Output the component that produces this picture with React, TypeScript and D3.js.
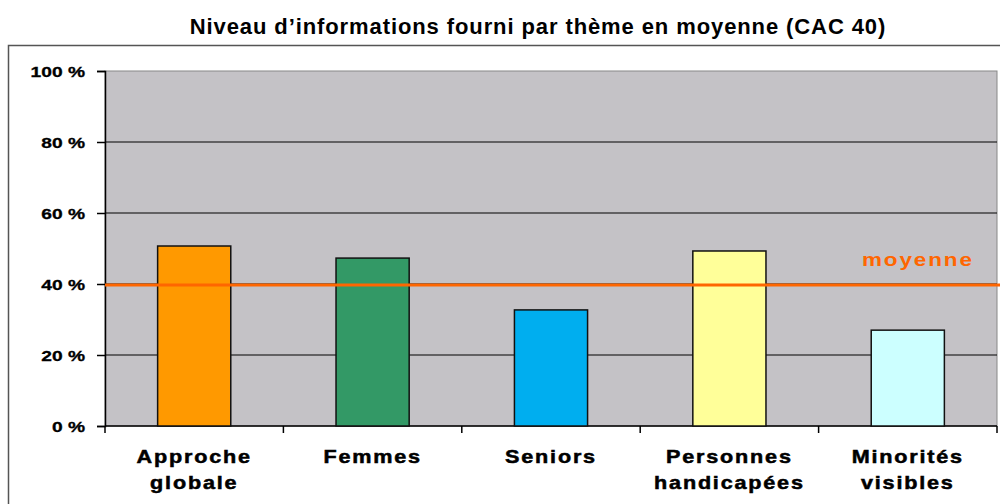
import React, { useEffect, useRef } from 'react'
import * as d3 from 'd3'

const categories = [['Approche', 'globale'], ['Femmes'], ['Seniors'], ['Personnes', 'handicapées'], ['Minorités', 'visibles']]
const values = [50.7, 47.3, 32.7, 49.3, 27]
const barColors = ['#FF9900', '#339966', '#00AEEF', '#FFFF99', '#CCFFFF']
const average = 39.7
const yTicks = [0, 20, 40, 60, 80, 100]

const FONT = 'Arial, "Liberation Sans", sans-serif'

export default function App() {
  const ref = useRef<SVGSVGElement>(null)

  useEffect(() => {
    if (!ref.current) return
    const svg = d3.select(ref.current)
    svg.selectAll('*').remove()

    const left = 105
    const right = 997
    const top = 71
    const bottom = 426

    const x = d3.scaleBand<number>().domain(d3.range(values.length)).range([left, right]).paddingInner(0.59).paddingOuter(0.295)
    const y = d3.scaleLinear().domain([0, 100]).range([bottom, top])

    // outer frame
    svg.append('rect')
      .attr('x', 8.5).attr('y', 45.5).attr('width', 1010).attr('height', 500)
      .attr('fill', 'white').attr('stroke', '#555').attr('stroke-width', 1.5)

    svg.append('text')
      .attr('x', 538).attr('y', 34)
      .attr('text-anchor', 'middle')
      .style('font-family', FONT)
      .style('font-size', '22px').style('font-weight', 'bold').style('letter-spacing', '0.9px')
      .text('Niveau d’informations fourni par thème en moyenne (CAC 40)')

    // plot area
    svg.append('rect')
      .attr('x', left).attr('y', top).attr('width', right - left).attr('height', bottom - top)
      .attr('fill', '#C4C2C6').attr('stroke', '#888').attr('stroke-width', 1)

    // gridlines
    svg.append('g').selectAll('line').data(yTicks.slice(1, -1)).join('line')
      .attr('x1', left).attr('x2', right)
      .attr('y1', d => y(d)).attr('y2', d => y(d))
      .attr('stroke', '#000').attr('stroke-width', 1)

    // y axis
    const yAxis = svg.append('g').attr('transform', `translate(${left},0)`)
      .call(d3.axisLeft(y).tickValues(yTicks).tickSize(8).tickFormat(() => ''))
    yAxis.select('.domain').attr('stroke', '#000').attr('stroke-width', 1.5)
    yAxis.selectAll('line').attr('stroke', '#000').attr('stroke-width', 1.5)

    svg.append('g').selectAll('text').data(yTicks).join('text')
      .attr('transform', d => `translate(85,${y(d) + 5.5}) scale(1.28,1)`)
      .attr('text-anchor', 'end')
      .style('font-family', FONT)
      .style('font-size', '15px').style('font-weight', 'bold')
      .attr('fill', '#000').attr('stroke', '#000').attr('stroke-width', 0.3)
      .text(d => `${d} %`)

    // x axis line + ticks between bands
    svg.append('line').attr('x1', left).attr('x2', right).attr('y1', bottom).attr('y2', bottom)
      .attr('stroke', '#000').attr('stroke-width', 1.5)
    const step = x.step()
    svg.append('g').selectAll('line').data(d3.range(values.length + 1)).join('line')
      .attr('x1', i => left + i * step).attr('x2', i => left + i * step)
      .attr('y1', bottom).attr('y2', bottom + 7)
      .attr('stroke', '#000').attr('stroke-width', 1.5)

    // bars
    svg.append('g').selectAll('rect').data(values).join('rect')
      .attr('x', (_, i) => x(i)!)
      .attr('y', d => y(d))
      .attr('width', x.bandwidth())
      .attr('height', d => bottom - y(d))
      .attr('fill', (_, i) => barColors[i])
      .attr('stroke', '#111').attr('stroke-width', 1.5)

    // average line
    svg.append('line')
      .attr('x1', left).attr('x2', 1000)
      .attr('y1', y(average)).attr('y2', y(average))
      .attr('stroke', '#FF6600').attr('stroke-width', 3)
    svg.append('text')
      .attr('transform', `translate(862,${y(average) - 19}) scale(1.25,1)`)
      .style('font-family', FONT)
      .style('font-size', '18px').style('font-weight', 'bold').style('letter-spacing', '1.5px')
      .attr('fill', '#FF6600')
      .text('moyenne')

    // category labels
    const labels = svg.append('g').selectAll('text').data(categories).join('text')
      .attr('transform', (_, i) => `translate(${x(i)! + x.bandwidth() / 2},463) scale(1.2,1)`)
      .attr('text-anchor', 'middle')
      .style('font-family', FONT)
      .style('font-size', '18px').style('font-weight', 'bold').style('letter-spacing', '1.5px')
      .attr('fill', '#000').attr('stroke', '#000').attr('stroke-width', 0.5)
    labels.selectAll('tspan').data(d => d).join('tspan')
      .attr('x', 0)
      .attr('dy', (_, j) => (j === 0 ? 0 : 26))
      .text(d => d)
  }, [])

  return (
    <div style={{ position: 'absolute', left: 0, top: 0 }}>
      <svg ref={ref} width={1000} height={504} style={{ display: 'block', background: 'white' }} />
    </div>
  )
}
